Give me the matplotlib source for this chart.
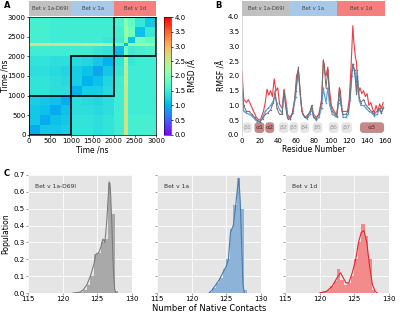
import numpy as np
import matplotlib
matplotlib.use("Agg")
import matplotlib.pyplot as plt
from matplotlib.patches import Rectangle, FancyBboxPatch

plt.rcParams['font.family'] = ['DejaVu Sans']

# ---- Panel A: pairwise RMSD map (block averages, ns edges) ----
time_edges = [0, 250, 500, 750, 1000, 1250, 1500, 1750, 2000, 2250, 2350, 2500, 2750, 3000]
rmsd_lower = [
    [0.95],
    [1.15, 0.95],
    [1.15, 1.1, 0.95],
    [1.2, 1.15, 1.1, 0.95],
    [1.4, 1.4, 1.35, 1.35, 1.0],
    [1.4, 1.4, 1.35, 1.3, 1.2, 1.0],
    [1.35, 1.35, 1.3, 1.25, 1.2, 1.1, 0.9],
    [1.4, 1.4, 1.35, 1.35, 1.3, 1.25, 1.15, 1.0],
    [1.5, 1.5, 1.5, 1.5, 1.5, 1.5, 1.45, 1.4, 1.05],
    [2.6, 2.6, 2.55, 2.55, 2.55, 2.5, 2.45, 2.35, 1.9, 1.05],
    [1.55, 1.55, 1.5, 1.5, 1.5, 1.5, 1.5, 1.45, 1.5, 2.1, 1.1],
    [1.55, 1.55, 1.5, 1.5, 1.5, 1.5, 1.5, 1.5, 1.55, 2.2, 1.9, 1.1],
    [1.55, 1.55, 1.5, 1.5, 1.5, 1.5, 1.5, 1.5, 1.6, 2.1, 1.75, 1.45, 1.15],
]
systems = ["Bet v 1a-D69I", "Bet v 1a", "Bet v 1d"]
sys_colors = ["#c0c0c0", "#a8c8e8", "#f47f7f"]
sys_span_ns = [(0, 1000), (1000, 2000), (2000, 3000)]

# ---- Panel B: RMSF per residue ----
res_d = [0, 2, 5, 7, 10, 13, 16, 19, 21, 24, 26, 28, 30, 32, 34, 36, 38, 40, 42, 45, 47, 49, 51, 53,
         56, 59, 61, 63, 64, 66, 68, 71, 74, 77, 78, 80, 83, 86, 89, 91, 92, 93, 94, 96, 98, 100,
         103, 106, 108, 109, 110, 112, 115, 118, 120, 122, 124, 125, 126, 127, 128, 130, 132, 134,
         136, 138, 140, 142, 144, 146, 148, 150, 152, 154, 156, 158]
rmsf_1d = [2.15, 1.2, 1.1, 1.2, 1.0, 0.8, 0.6, 0.5, 0.55, 0.8, 1.1, 1.55, 1.35, 1.5, 1.3, 1.9, 1.5,
           1.6, 1.05, 0.9, 1.55, 1.2, 0.7, 0.6, 0.7, 1.2, 2.0, 2.2, 1.9, 1.1, 0.7, 0.6, 0.7, 0.8,
           1.0, 0.7, 0.6, 0.7, 1.2, 2.5, 2.4, 2.1, 2.0, 2.3, 1.5, 1.0, 0.8, 0.7, 1.2, 1.6, 1.5,
           0.8, 0.8, 0.8, 1.2, 2.3, 3.7, 3.2, 2.9, 2.6, 2.5, 1.4, 1.6, 1.4, 1.5, 1.3, 1.4, 1.0,
           1.1, 0.9, 0.75, 1.0, 0.8, 1.05, 0.9, 1.1]
res_a = [0, 2, 5, 8, 11, 14, 17, 20, 23, 26, 29, 32, 35, 37, 39, 42, 45, 47, 49, 51, 54, 57, 60,
         62, 63, 65, 67, 70, 73, 76, 78, 80, 83, 86, 89, 91, 92, 94, 96, 98, 101, 104, 106, 108,
         109, 111, 113, 116, 119, 121, 123, 124, 126, 128, 129, 131, 133, 136, 139, 142, 145, 148,
         151, 154, 156, 158]
rmsf_1a = [1.6, 0.8, 0.75, 0.7, 0.65, 0.55, 0.45, 0.45, 0.6, 0.8, 0.9, 1.0, 1.15, 1.3, 1.1, 0.85,
           0.75, 1.45, 1.0, 0.6, 0.55, 0.75, 1.3, 1.9, 2.1, 1.4, 0.8, 0.6, 0.55, 0.7, 0.9, 0.6,
           0.5, 0.6, 0.9, 1.6, 1.4, 1.1, 1.6, 1.0, 0.7, 0.65, 0.6, 1.1, 1.45, 1.0, 0.6, 0.6, 0.7,
           1.2, 2.0, 2.4, 2.1, 1.8, 2.2, 1.2, 1.0, 1.0, 0.9, 0.8, 0.75, 0.65, 0.7, 0.85, 0.75, 0.9]
rmsf_d69i = [1.5, 1.0, 0.8, 0.8, 0.7, 0.6, 0.5, 0.45, 0.55, 0.7, 0.75, 0.85, 1.1, 1.5, 0.9, 0.7,
             0.7, 1.5, 0.9, 0.55, 0.55, 0.8, 1.5, 2.0, 2.3, 1.5, 0.8, 0.6, 0.6, 0.8, 1.0, 0.6,
             0.55, 0.7, 1.1, 2.55, 2.3, 1.6, 2.2, 1.2, 0.8, 0.7, 0.65, 1.2, 1.6, 1.0, 0.7, 0.7,
             0.8, 1.3, 2.2, 2.4, 2.2, 1.4, 2.0, 1.3, 1.1, 1.2, 1.0, 0.9, 0.8, 0.7, 0.8, 0.9, 0.75,
             0.95]
ss_labels = ["β1", "α1", "α2", "β2", "β3", "β4", "β5", "β6", "β7", "α3"]
ss_start = [1, 14, 26, 41, 53, 65, 79, 97, 111, 132]
ss_end = [11, 25, 36, 52, 63, 75, 90, 108, 123, 159]

# ---- Panel C: native contact distributions ----
bin_edges = [120.0, 120.5, 121.0, 121.5, 122.0, 122.5, 123.0, 123.5, 124.0, 124.5, 125.0,
             125.5, 126.0, 126.5, 127.0, 127.5, 128.0]
hist_d69i = [0, 0, 0, 0, 0.003, 0.008, 0.02, 0.05, 0.1, 0.23, 0.24, 0.3, 0.32, 0.65, 0.47, 0.01]
hist_1a = [0, 0, 0, 0, 0, 0.008, 0.03, 0.06, 0.09, 0.14, 0.2, 0.38, 0.52, 0.68, 0.5, 0.02]
hist_1d = [0.005, 0.01, 0.02, 0.04, 0.07, 0.14, 0.08, 0.05, 0.06, 0.1, 0.2, 0.3, 0.41, 0.34,
           0.2, 0.02]
kde_x_d69i = [121.5, 122.5, 123, 123.5, 124, 124.5, 124.8, 125.2, 125.5, 125.8, 126.1, 126.4,
              126.7, 126.9, 127.1, 127.3, 127.5, 127.7]
kde_y_d69i = [0, 0.005, 0.02, 0.05, 0.1, 0.17, 0.23, 0.24, 0.27, 0.32, 0.3, 0.45, 0.66, 0.6,
              0.4, 0.15, 0.02, 0]
kde_x_1a = [122.5, 123, 123.5, 124, 124.5, 125, 125.3, 125.6, 126, 126.3, 126.6, 126.8, 127,
            127.2, 127.4, 127.6]
kde_y_1a = [0, 0.02, 0.05, 0.08, 0.12, 0.16, 0.2, 0.36, 0.4, 0.5, 0.62, 0.68, 0.55, 0.3, 0.05, 0]
kde_x_1d = [120, 121, 121.8, 122.5, 123, 123.4, 123.8, 124.2, 124.7, 125.2, 125.6, 126, 126.4,
            126.8, 127.2, 127.6, 128, 128.3]
kde_y_1d = [0, 0.01, 0.04, 0.09, 0.12, 0.09, 0.06, 0.06, 0.12, 0.2, 0.3, 0.36, 0.37, 0.3, 0.16,
            0.05, 0.01, 0]

W, H = 400, 313
fig = plt.figure(figsize=(4, 3.13), dpi=100)

def box(l, t, r, b):
    return [l / W, 1 - b / H, (r - l) / W, (b - t) / H]

FS = 5

def header(rect, lims):
    hx = fig.add_axes(rect)
    for (s, e), c, name in zip(lims, sys_colors, systems):
        hx.axvspan(s, e, color=c, lw=0)
        hx.text((s + e) / 2, 0.5, name, ha='center', va='center', fontsize=3.8, color='#444444')
    hx.set_xlim(lims[0][0], lims[-1][1])
    hx.set_ylim(0, 1)
    hx.axis('off')

# panel A
axA = fig.add_axes(box(29, 17, 156, 135))
n = len(rmsd_lower)
mat = np.zeros((n, n))
for i, row in enumerate(rmsd_lower):
    for j, v in enumerate(row):
        mat[i, j] = v
        mat[j, i] = v
mesh = axA.pcolormesh(time_edges, time_edges, mat, cmap='rainbow', vmin=0, vmax=4)
for s, e in sys_span_ns:
    axA.add_patch(Rectangle((s, s), e - s, e - s, fill=False, ec='black', lw=1.2))
axA.set_xlim(0, 3000)
axA.set_ylim(0, 3000)
axA.set_xticks(range(0, 3001, 500))
axA.set_yticks(range(0, 3001, 500))
axA.tick_params(labelsize=FS, length=1.5, width=0.5, pad=1)
axA.set_xlabel("Time /ns", fontsize=5.5, labelpad=1)
axA.set_ylabel("Time /ns", fontsize=5.5)
axA.yaxis.set_label_coords(-0.155, 0.5)
for sp in axA.spines.values():
    sp.set_linewidth(0.5)
header(box(29, 1, 156, 16), sys_span_ns)

cax = fig.add_axes(box(164, 17, 171, 135))
cb = fig.colorbar(mesh, cax=cax, ticks=np.arange(0, 4.01, 0.5))
cb.ax.tick_params(labelsize=FS, length=1.5, width=0.5, pad=1)
cb.set_label("RMSD /Å", fontsize=5.5, labelpad=2)
cb.outline.set_linewidth(0.4)

# panel B
axB = fig.add_axes(box(242, 16, 385, 135))
axB.plot(res_d, rmsf_1d, color='#ee3b45', lw=0.8)
axB.plot(res_a, rmsf_1a, color='#5a9bd5', lw=0.8, marker='o', ms=1.2, mew=0)
axB.plot(res_a, rmsf_d69i, color='#707070', lw=0.7, marker='o', ms=1.0, mew=0)
for lab, s, e in zip(ss_labels, ss_start, ss_end):
    alpha = lab.startswith("α")
    fc = '#c48888' if alpha else '#e6e6e6'
    tc = '#6a1f1f' if alpha else '#9a9a9a'
    axB.add_patch(FancyBboxPatch((s, 0.07), e - s, 0.36,
                                 boxstyle="round,pad=0,rounding_size=4",
                                 mutation_aspect=0.03, fc=fc, ec='none'))
    axB.text((s + e) / 2, 0.25, lab, ha='center', va='center', fontsize=4.5, color=tc)
axB.set_xlim(0, 160)
axB.set_ylim(0, 4.03)
axB.set_xticks(range(0, 161, 20))
axB.set_yticks(np.arange(0, 4.01, 0.5))
axB.tick_params(labelsize=FS, length=0, pad=2)
axB.set_xlabel("Residue Number", fontsize=5.5, labelpad=1)
axB.set_ylabel("RMSF /Å", fontsize=5.5, labelpad=1)
for k in ['top', 'right', 'bottom']:
    axB.spines[k].set_visible(False)
axB.spines['left'].set_color('#cccccc')
axB.spines['left'].set_linewidth(0.5)
header(box(242, 1, 385, 16), [(0, 53.3), (53.3, 106.7), (106.7, 160)])

# panel C
hists = [hist_d69i, hist_1a, hist_1d]
kdes = [(kde_x_d69i, kde_y_d69i), (kde_x_1a, kde_y_1a), (kde_x_1d, kde_y_1d)]
bar_cols = ['#a9a9a9', '#8db4d8', '#f28b8b']
line_cols = ['#7c7c7c', '#4b7aa8', '#e0262f']
lefts = [28, 157, 285]
widths = np.diff(bin_edges)
for k in range(3):
    ax = fig.add_axes(box(lefts[k], 175, lefts[k] + 104, 293))
    ax.set_facecolor('#e5e5e5')
    ax.grid(True, color='white', lw=0.6)
    ax.set_axisbelow(True)
    ax.bar(bin_edges[:-1], hists[k], width=widths, align='edge', color=bar_cols[k], lw=0)
    ax.plot(kdes[k][0], kdes[k][1], color=line_cols[k], lw=0.8)
    ax.text(116, 0.63, systems[k], fontsize=4.3, color='#333333', va='center')
    ax.set_xlim(115, 130)
    ax.set_ylim(0, 0.7)
    ax.set_xticks(range(115, 131, 5))
    ax.set_yticks(np.arange(0, 0.71, 0.1))
    for sp in ax.spines.values():
        sp.set_visible(False)
    ax.tick_params(labelsize=FS, length=1.5, width=0.4, color='#555555', pad=1)
    if k > 0:
        ax.set_yticklabels([])
    else:
        ax.set_ylabel("Population", fontsize=5.5)
        ax.yaxis.set_label_coords(-0.17, 0.5)
    if k == 1:
        ax.set_xlabel("Number of Native Contacts", fontsize=6, labelpad=1)

fig.text(4 / W, 1 - 6 / H, "A", fontsize=6, fontweight='bold', va='center')
fig.text(215 / W, 1 - 6 / H, "B", fontsize=6, fontweight='bold', va='center')
fig.text(4 / W, 1 - 174 / H, "C", fontsize=6, fontweight='bold', va='center')

fig.savefig("out.png", dpi=100)
